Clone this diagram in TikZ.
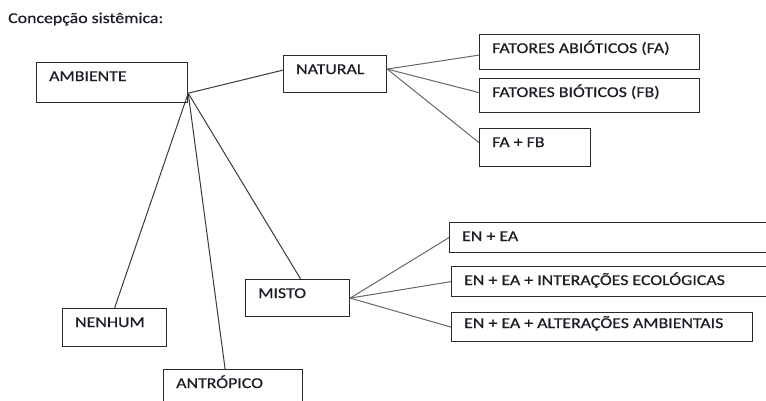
\documentclass[tikz,border=0pt]{standalone}
\usepackage{fontspec}
\setmainfont{Carlito}[FakeStretch=1.19, FakeBold=0.6]
\usepackage{tikz}

\definecolor{ink}{HTML}{1C1C24}
\definecolor{boxline}{HTML}{2A2A2A}
\definecolor{linkdark}{HTML}{3A3A3A}
\definecolor{linkgray}{HTML}{676767}

\tikzset{
  box/.style={draw=boxline, line width=1.2pt, anchor=north west, inner sep=0pt},
  tag/.style={anchor=base west, xshift=13pt, yshift=-19pt, text=ink, inner sep=0pt},
  link/.style={draw=linkdark, line width=1pt},
  twig/.style={draw=linkgray, line width=1pt}
}

\begin{document}
\begin{tikzpicture}[x=1pt, y=-1pt, font=\fontsize{15}{18}\selectfont]
        \useasboundingbox (0,0) rectangle (766,400);
        % \draw[help lines, step=50] (0,0) grid (766,400);
        \node[anchor=base west, text=ink, inner sep=0pt] at (8,23) (title) {Concepção sistêmica:};

        \node[box, minimum width=151pt, minimum height=40pt, label={[tag]north west:AMBIENTE}] at (36,62) (amb) {};
        \node[box, minimum width=103pt, minimum height=37pt, label={[tag]north west:NATURAL}] at (283,55) (nat) {};

        \node[box, minimum width=220pt, minimum height=35pt, label={[tag]north west:FATORES ABIÓTICOS (FA)}] at (479,34) (fa) {};
        \node[box, minimum width=220pt, minimum height=34pt, label={[tag]north west:FATORES BIÓTICOS (FB)}] at (479,78) (fb) {};
        \node[box, minimum width=111pt, minimum height=38pt, label={[tag]north west:FA + FB}] at (479,128) (fafb) {};

        \node[box, minimum width=104pt, minimum height=38pt, label={[tag]north west:NENHUM}] at (62,308) (nen) {};
        \node[box, minimum width=139pt, minimum height=40pt, label={[tag]north west:ANTRÓPICO}] at (163,369) (ant) {};
        \node[box, minimum width=104pt, minimum height=37pt, label={[tag]north west:MISTO}] at (245,279) (mis) {};

        \node[box, minimum width=330pt, minimum height=30pt, label={[tag]north west:EN + EA}] at (449,222) (en) {};
        \node[box, minimum width=330pt, minimum height=30pt, label={[tag]north west:EN + EA + INTERAÇÕES ECOLÓGICAS}] at (451,266) (eni) {};
        \node[box, minimum width=301pt, minimum height=29pt, label={[tag, yshift=3pt]north west:EN + EA + ALTERAÇÕES AMBIENTAIS}] at (451,312) (ena) {};

        \coordinate (hub) at ([yshift=10pt]amb.south east);

        \path[link]
        (hub) edge ([yshift=4pt]nat.west)
        (hub) edge (nen.north)
        (hub) edge ([xshift=-8pt]ant.north)
        (hub) edge ([xshift=3pt]mis.north);

        \path[twig]
        ([yshift=5pt]nat.east) edge ([yshift=-3pt]fa.west)
        ([yshift=5pt]nat.east) edge ([yshift=3pt]fb.west)
        ([yshift=5pt]nat.east) edge ([yshift=5pt]fafb.west)

        (mis.east) edge (en.west)
        (mis.east) edge (eni.west)
        (mis.east) edge (ena.west);
    \end{tikzpicture}
\end{document}
